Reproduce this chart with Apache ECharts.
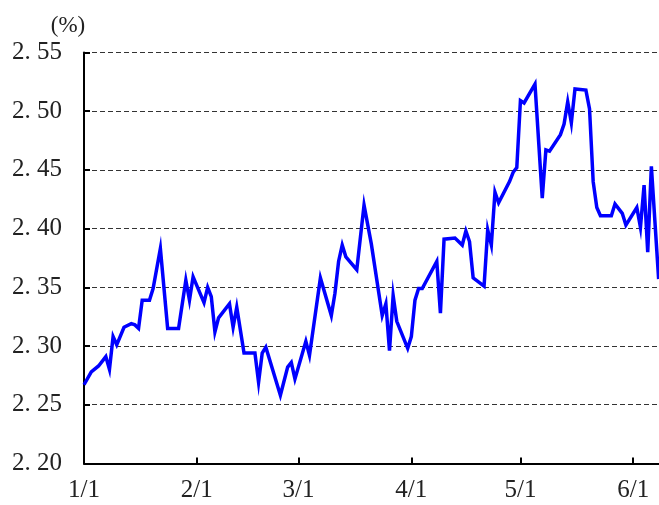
<!DOCTYPE html>
<html>
<head>
<meta charset="utf-8">
<script src="https://cdn.jsdelivr.net/npm/echarts@6/dist/echarts.min.js"></script>
<style>
	html, body { margin:0; padding:0; background:#fff; }
	#data { width:659px; height:505px; }
</style>
</head>
<body>
<div id="data"></div>
<script>
var year = 2019;
var days = [
	'1/1','1/3','1/5','1/7','1/8','1/9','1/10','1/12','1/14','1/15','1/16','1/17','1/19','1/20','1/22','1/24','1/27','1/29','1/30','1/31',
	'2/3','2/4','2/5','2/6','2/7','2/10','2/11','2/12','2/14','2/17','2/18','2/19','2/20','2/24','2/26','2/27','2/28',
	'3/3','3/4','3/7','3/10','3/11','3/12','3/13','3/14','3/17','3/19','3/21','3/24','3/25','3/26','3/27','3/28','3/31',
	'4/1','4/2','4/3','4/4','4/8','4/9','4/10','4/13','4/15','4/16','4/17','4/18','4/21','4/22','4/23','4/24','4/25','4/28','4/29','4/30',
	'5/1','5/2','5/5','5/7','5/8','5/9','5/12','5/13','5/14','5/15','5/16','5/19','5/20','5/21','5/22','5/23','5/26','5/27','5/29','5/30',
	'6/2','6/3','6/4','6/5','6/6','6/8'
];
var rates = [
	2.267, 2.278, 2.283, 2.291, 2.280, 2.308, 2.301, 2.316, 2.319, 2.318, 2.315, 2.339, 2.339, 2.349, 2.383, 2.315, 2.315, 2.356, 2.339, 2.359,
	2.337, 2.350, 2.342, 2.312, 2.324, 2.336, 2.316, 2.333, 2.294, 2.294, 2.269, 2.294, 2.299, 2.258, 2.282, 2.286, 2.272,
	2.304, 2.292, 2.358, 2.326, 2.345, 2.372, 2.386, 2.376, 2.365, 2.420, 2.387, 2.326, 2.336, 2.296, 2.343, 2.321, 2.298,
	2.308, 2.339, 2.349, 2.349, 2.372, 2.328, 2.391, 2.392, 2.386, 2.398, 2.389, 2.358, 2.351, 2.399, 2.386, 2.431, 2.422, 2.440, 2.448, 2.452,
	2.509, 2.507, 2.523, 2.426, 2.467, 2.466, 2.480, 2.489, 2.508, 2.490, 2.519, 2.518, 2.502, 2.440, 2.418, 2.411, 2.411, 2.421, 2.413, 2.403,
	2.418, 2.401, 2.437, 2.380, 2.453, 2.357
];
var monthTicks = ['1/1','2/1','3/1','4/1','5/1','6/1'];
var xEnd = '6/8';

// x runs in days counted from 1/1
var DAY = 86400000;
var origin = Date.UTC(year, 0, 1);
var toDay = function(md){
	var p = md.split('/');
	return Math.round((Date.UTC(year, +p[0]-1, +p[1]) - origin) / DAY);
}
var dayLabel = function(n){
	var d = new Date(origin + Math.round(n) * DAY);
	return (d.getUTCMonth()+1) + '/' + d.getUTCDate();
}

var font = 'Liberation Serif';
var chart = echarts.init(document.getElementById('data'));
var ticks = monthTicks.map(toDay);

var setOption = function(){
	var points = [];
	for(var i=0; i<days.length; i++){
		points.push([toDay(days[i]), rates[i]]);
	}
	return ({
		animation:false,
		grid:{
			left:84,
			right:0,
			top:52.5,
			bottom:41.6
		},
		xAxis:{
			type:'value',
			min:0,
			max:toDay(xEnd) + 0.1,
			axisLine:{
				lineStyle:{color:'#000', width:2}
			},
			axisTick:{
				show:true,
				inside:true,
				length:6,
				customValues:ticks,
				lineStyle:{color:'#000', width:2}
			},
			axisLabel:{
				customValues:ticks,
				margin:15,
				color:'#222',
				fontFamily:font,
				fontSize:25,
				formatter:dayLabel
			},
			splitLine:{show:false}
		},
		yAxis:{
			type:'value',
			min:2.2,
			max:2.55,
			interval:0.05,
			name:'(%)',
			nameLocation:'end',
			nameGap:15,
			nameTextStyle:{
				color:'#222',
				fontFamily:font,
				fontSize:23,
				padding:[0, 32, 0, 0]
			},
			axisLine:{
				show:true,
				lineStyle:{color:'#000', width:2}
			},
			axisTick:{
				show:true,
				inside:true,
				length:6,
				lineStyle:{color:'#000', width:2}
			},
			axisLabel:{
				margin:22,
				color:'#222',
				fontFamily:font,
				fontSize:25,
				formatter:function(v){
					return v.toFixed(2).replace('.', '. ');
				}
			},
			splitLine:{
				lineStyle:{color:'#333', width:1, type:[5, 3]}
			}
		},
		series:[{
			type:'line',
			showSymbol:false,
			symbol:'none',
			lineStyle:{color:'#0000ff', width:3.5, join:'miter'},
			data:points
		}]
	})
}

chart.setOption(setOption());
</script>
</body>
</html>
